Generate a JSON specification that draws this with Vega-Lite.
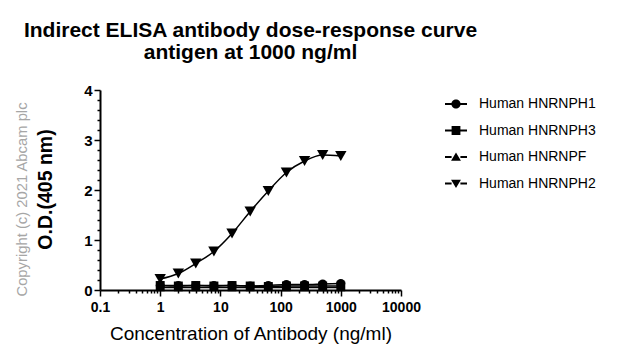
{
  "$schema": "https://vega.github.io/schema/vega-lite/v6.json",
  "autosize": "none",
  "width": 301,
  "height": 200,
  "padding": {"left": 100, "top": 90, "right": 224, "bottom": 71},
  "background": "white",
  "config": {
    "font": "Liberation Sans",
    "view": {"stroke": null},
    "axis": {"grid": false, "domainColor": "black", "tickColor": "black", "labelColor": "black", "titleColor": "black", "domainWidth": 2, "tickWidth": 1.5}
  },
  "title": {
    "text": ["Indirect ELISA antibody dose-response curve", "antigen at 1000 ng/ml"],
    "fontSize": 21,
    "fontWeight": "bold",
    "anchor": "middle",
    "baseline": "alphabetic",
    "lineHeight": 22,
    "offset": 3,
    "color": "black"
  },
  "data": {
    "values": [
      {"conc": 1, "od": 0.09, "series": "Human HNRNPH1"},
      {"conc": 2, "od": 0.09, "series": "Human HNRNPH1"},
      {"conc": 3.9, "od": 0.09, "series": "Human HNRNPH1"},
      {"conc": 7.8, "od": 0.09, "series": "Human HNRNPH1"},
      {"conc": 15.6, "od": 0.09, "series": "Human HNRNPH1"},
      {"conc": 31.25, "od": 0.08, "series": "Human HNRNPH1"},
      {"conc": 62.5, "od": 0.09, "series": "Human HNRNPH1"},
      {"conc": 125, "od": 0.11, "series": "Human HNRNPH1"},
      {"conc": 250, "od": 0.11, "series": "Human HNRNPH1"},
      {"conc": 500, "od": 0.12, "series": "Human HNRNPH1"},
      {"conc": 1000, "od": 0.13, "series": "Human HNRNPH1"},
      {"conc": 1, "od": 0.09, "series": "Human HNRNPH3"},
      {"conc": 2, "od": 0.08, "series": "Human HNRNPH3"},
      {"conc": 3.9, "od": 0.09, "series": "Human HNRNPH3"},
      {"conc": 7.8, "od": 0.08, "series": "Human HNRNPH3"},
      {"conc": 15.6, "od": 0.09, "series": "Human HNRNPH3"},
      {"conc": 31.25, "od": 0.08, "series": "Human HNRNPH3"},
      {"conc": 62.5, "od": 0.07, "series": "Human HNRNPH3"},
      {"conc": 125, "od": 0.08, "series": "Human HNRNPH3"},
      {"conc": 250, "od": 0.08, "series": "Human HNRNPH3"},
      {"conc": 500, "od": 0.08, "series": "Human HNRNPH3"},
      {"conc": 1000, "od": 0.08, "series": "Human HNRNPH3"},
      {"conc": 1, "od": 0.05, "series": "Human HNRNPF"},
      {"conc": 2, "od": 0.05, "series": "Human HNRNPF"},
      {"conc": 3.9, "od": 0.05, "series": "Human HNRNPF"},
      {"conc": 7.8, "od": 0.05, "series": "Human HNRNPF"},
      {"conc": 15.6, "od": 0.05, "series": "Human HNRNPF"},
      {"conc": 31.25, "od": 0.05, "series": "Human HNRNPF"},
      {"conc": 62.5, "od": 0.05, "series": "Human HNRNPF"},
      {"conc": 125, "od": 0.05, "series": "Human HNRNPF"},
      {"conc": 250, "od": 0.05, "series": "Human HNRNPF"},
      {"conc": 500, "od": 0.05, "series": "Human HNRNPF"},
      {"conc": 1000, "od": 0.05, "series": "Human HNRNPF"},
      {"conc": 1, "od": 0.22, "series": "Human HNRNPH2"},
      {"conc": 2, "od": 0.33, "series": "Human HNRNPH2"},
      {"conc": 3.9, "od": 0.53, "series": "Human HNRNPH2"},
      {"conc": 7.8, "od": 0.77, "series": "Human HNRNPH2"},
      {"conc": 15.6, "od": 1.13, "series": "Human HNRNPH2"},
      {"conc": 31.25, "od": 1.57, "series": "Human HNRNPH2"},
      {"conc": 62.5, "od": 1.98, "series": "Human HNRNPH2"},
      {"conc": 125, "od": 2.35, "series": "Human HNRNPH2"},
      {"conc": 250, "od": 2.58, "series": "Human HNRNPH2"},
      {"conc": 500, "od": 2.7, "series": "Human HNRNPH2"},
      {"conc": 1000, "od": 2.68, "series": "Human HNRNPH2"}
    ]
  },
  "encoding": {
    "x": {
      "field": "conc", "type": "quantitative",
      "scale": {"type": "log", "domain": [0.1, 10000], "nice": false},
      "axis": {
        "title": "Concentration of Antibody (ng/ml)",
        "titleFontSize": 19, "titleFontWeight": "normal", "titlePadding": 10,
        "values": [0.1,0.2,0.3,0.4,0.5,0.6,0.7,0.8,0.9,1,2,3,4,5,6,7,8,9,10,20,30,40,50,60,70,80,90,100,200,300,400,500,600,700,800,900,1000,2000,3000,4000,5000,6000,7000,8000,9000,10000],
        "labelExpr": "indexof([0.1,1,10,100,1000,10000], datum.value) >= 0 ? datum.value : ''",
        "labelFontSize": 14, "labelFontWeight": "bold", "labelPadding": 4, "labelFlush": false, "labelOverlap": false,
        "tickSize": {"condition": {"test": "indexof([0.1,1,10,100,1000,10000], datum.value) >= 0", "value": 6}, "value": 3}
      }
    }
  },
  "layer": [
    {
      "mark": {"type": "line", "color": "black", "strokeWidth": 1.5, "interpolate": "monotone"},
      "encoding": {
        "detail": {"field": "series"},
        "y": {
          "field": "od", "type": "quantitative",
          "scale": {"domain": [0, 4], "nice": false},
          "axis": {
            "orient": "left",
            "title": "O.D.(405 nm)",
            "titleFontSize": 19.5, "titleFontWeight": "bold",
            "titleX": -55, "titleY": 99, "titleBaseline": "middle", "titleAlign": "center", "titleAngle": -90,
            "values": [0,0.2,0.4,0.6,0.8,1,1.2,1.4,1.6,1.8,2,2.2,2.4,2.6,2.8,3,3.2,3.4,3.6,3.8,4],
            "labelExpr": "datum.value % 1 == 0 ? datum.value : ''",
            "labelFontSize": 15, "labelFontWeight": "bold", "labelPadding": 2, "labelFlush": false, "labelOverlap": false,
            "tickSize": {"condition": {"test": "datum.value % 1 == 0", "value": 6}, "value": 3}
          }
        }
      }
    },
    {
      "mark": {"type": "point", "filled": true, "color": "black", "opacity": 1},
      "encoding": {
        "y": {"field": "od", "type": "quantitative", "scale": {"domain": [0, 4], "nice": false}, "axis": null},
        "shape": {
          "field": "series", "type": "nominal",
          "scale": {"domain": ["Human HNRNPH1", "Human HNRNPH3", "Human HNRNPF", "Human HNRNPH2"], "range": ["circle", "square", "triangle-up", "triangle-down"]},
          "legend": null
        },
        "size": {"condition": {"test": "datum.series == 'Human HNRNPH2'", "value": 130}, "value": 80}
      }
    },
    {
      "transform": [{"filter": "datum.od < 0"}],
      "mark": {"type": "point", "filled": true, "color": "black", "opacity": 1},
      "encoding": {
        "y": {"field": "od", "type": "quantitative", "scale": {"domain": [0, 4], "nice": false}, "axis": null},
        "shape": {
          "field": "series", "type": "nominal",
          "scale": {
            "domain": ["Human HNRNPH1", "Human HNRNPH3", "Human HNRNPF", "Human HNRNPH2"],
            "range": [
              "M-1,-0.09H-0.4V0.09H-1Z M0.4,-0.09H1V0.09H0.4Z M0.42,0A0.42,0.42,0,1,1,-0.42,0A0.42,0.42,0,1,1,0.42,0Z",
              "M-1,-0.09H-0.4V0.09H-1Z M0.4,-0.09H1V0.09H0.4Z M-0.4,-0.4H0.4V0.4H-0.4Z",
              "M-1,-0.09H-0.4V0.09H-1Z M0.4,-0.09H1V0.09H0.4Z M0,-0.4L0.45,0.35H-0.45Z",
              "M-1,-0.09H-0.4V0.09H-1Z M0.4,-0.09H1V0.09H0.4Z M0,0.4L0.45,-0.35H-0.45Z"
            ]
          },
          "legend": {
            "title": null,
            "orient": "none",
            "legendX": 345,
            "legendY": 3,
            "symbolSize": 484,
            "labelFontSize": 14,
            "labelColor": "black",
            "labelOffset": 12,
            "rowPadding": 8.5,
            "symbolFillColor": "black",
            "symbolStrokeWidth": 0,
            "symbolOpacity": 1
          }
        }
      }
    },
    {
      "mark": {"type": "line", "opacity": 0},
      "encoding": {
        "detail": {"field": "series"},
        "y": {
          "field": "od", "type": "quantitative",
          "scale": {"domain": [0, 4], "nice": false},
          "axis": {"orient": "left", "title": "Copyright (c) 2021 Abcam plc", "titleFontSize": 14.8, "titleFontWeight": "normal", "titleColor": "#a6a6a6", "titleX": -78, "titleY": 109, "titleBaseline": "middle", "titleAlign": "center", "titleAngle": -90, "labels": false, "ticks": false, "domain": false}
        }
      }
    }
  ],
  "resolve": {"axis": {"y": "independent"}, "scale": {"shape": "independent"}}
}
